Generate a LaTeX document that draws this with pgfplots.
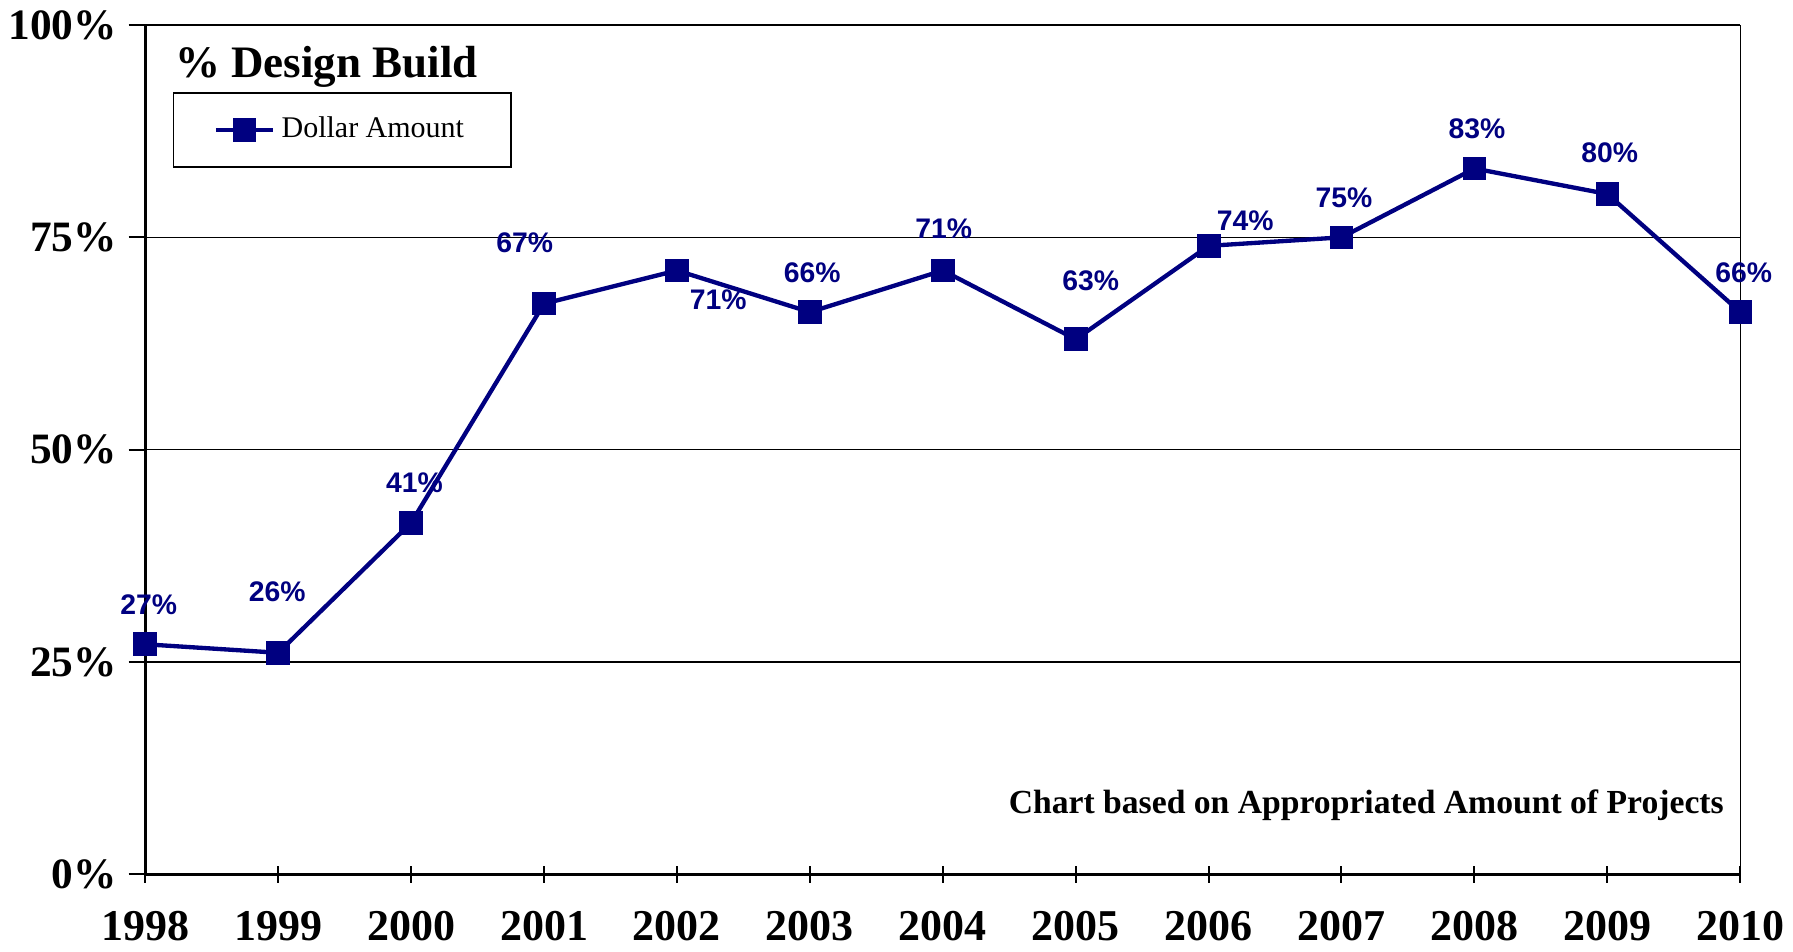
\documentclass[border=0pt]{standalone}
\usepackage{fontspec}
\setmainfont{Liberation Serif}
\newfontfamily\lblfont{Liberation Sans}
\usepackage{pgfplots}
\pgfplotsset{compat=1.18}
\usepackage{pgfplotstable}
\definecolor{navyline}{RGB}{0,0,128}

% share of design build, by year (dollar amount)
\pgfplotstableread{
year val  lab dx   dy
1998 27.1 27  1.0  12.0
1999 26.1 26  -0.3 18.2
2000 41.4 41  1.0  12.0
2001 67.2 67  -5.8 18.2
2002 71.1 71  12.4 -8.9
2003 66.2 66  0.7  11.7
2004 71.1 71  0.3  12.4
2005 63.0 63  4.5  17.5
2006 74.0 74  11.0 7.5
2007 75.0 75  0.7  12.0
2008 83.1 83  0.7  12.0
2009 80.1 80  0.7  12.4
2010 66.2 66  1.0  11.7
}\dbdata

\begin{document}
\begin{tikzpicture}
\begin{axis}[
  scale only axis,
  width=478.6pt, height=254.9pt,
  xmin=1998, xmax=2010, ymin=0, ymax=100,
  axis x line=bottom, axis y line=left,
  axis line style={-, line width=0.8pt},
  xtick={1998,...,2010},
  xticklabels={1998,1999,2000,2001,2002,2003,2004,2005,2006,2007,2008,2009,2010},
  ytick={0,25,50,75,100},
  yticklabels={0\%,25\%,50\%,75\%,100\%},
  xtick align=center, ytick align=outside,
  major tick length=5pt,
  xtick style={black, line width=0.6pt},
  ytick style={black, line width=0.6pt},
  xticklabel style={font=\fontsize{13.2}{14}\selectfont\bfseries, yshift=-5pt},
  yticklabel style={font=\fontsize{13}{14}\selectfont\bfseries},
  ymajorgrids,
  grid style={black, line width=0.4pt},
  clip=false,
  legend style={at={(0.0171,0.9207)}, anchor=north west, draw=black,
    line width=0.5pt, inner xsep=12.1pt, inner ysep=5.2pt,
    font=\fontsize{9}{10}\selectfont},
  legend cell align=left,
]
\addplot[navyline, line width=1.3pt, mark=square*, mark size=2.9pt,
  mark options={fill=navyline, solid},
  point meta=explicit symbolic,
  nodes near coords={\pgfplotspointmeta\%},
  visualization depends on={\thisrow{dx}\as\dx},
  visualization depends on={\thisrow{dy}\as\dy},
  nodes near coords style={anchor=center, xshift=\dx, yshift=\dy,
    font=\lblfont\bfseries\fontsize{8.5}{9}\selectfont, text=navyline},
] table[x=year, y=val, meta=lab] {\dbdata};
\addlegendentry{Dollar Amount}

\draw[line width=0.4pt] (rel axis cs:1,0) -- (rel axis cs:1,1);
\draw[line width=0.8pt] (rel axis cs:0,1) -- (rel axis cs:1,1);
\node[anchor=base west, font=\fontsize{13.5}{14}\selectfont\bfseries]
  at (rel axis cs:0.0114,0.938) {\% Design Build};
\node[anchor=base east, font=\fontsize{10.1}{11}\selectfont\bfseries]
  at (rel axis cs:0.997,0.0714) {Chart based on Appropriated Amount of Projects};
\end{axis}
\pgfresetboundingbox
\path[use as bounding box] (-43.6pt,-23.2pt) rectangle (494.4pt,262.4pt);
\end{tikzpicture}
\end{document}
